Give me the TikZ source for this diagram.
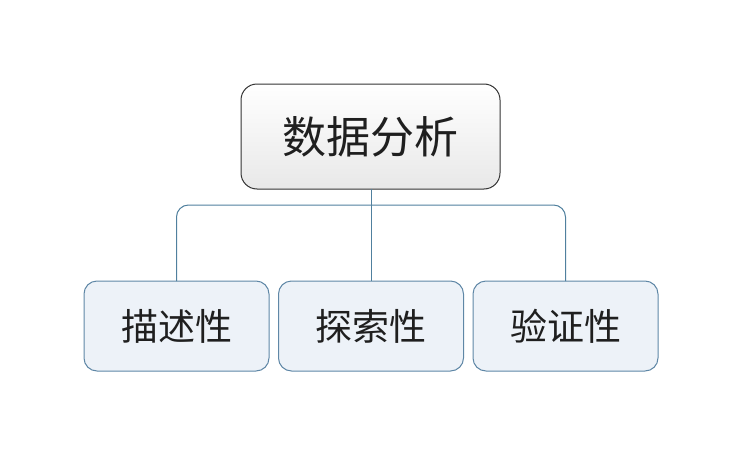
\documentclass[tikz,border=0pt]{standalone}
\usepackage{fontspec}
\usetikzlibrary{positioning}
\newfontfamily\cjk{Noto Sans CJK SC}
\definecolor{topic edge}{HTML}{333333}
\definecolor{sub edge}{HTML}{5F87A6}
\definecolor{sub area}{HTML}{EDF2F8}
\definecolor{link color}{HTML}{50809E}
\tikzset{topic/.style={draw=topic edge, line width=1pt, rounded corners=16pt,
        top color=white, bottom color=black!9, minimum width=259pt,
        minimum height=105pt, outer sep=0pt, text=black!88,
        font=\cjk\fontsize{44}{44}\selectfont},
    subtopic/.style={draw=sub edge, line width=1pt, fill=sub area,
        rounded corners=13pt, minimum width=185pt, minimum height=90pt,
        outer sep=0pt, text=black!88, font=\cjk\fontsize{37}{37}\selectfont},
    link/.style={draw=link color, line width=1pt}}

\begin{document}
\begin{tikzpicture}[x=1pt, y=-1pt]
    \useasboundingbox (0,0) rectangle (742,455);
    \node[topic] (root) at (370.5,136.5) {数据分析};
    \node[subtopic] (desc) at (176.5,326) {描述性};
    \node[subtopic, right=9.5pt of desc] (expl) {探索性};
    \node[subtopic, right=9.5pt of expl] (veri) {验证性};
    \coordinate (bar) at ([yshift=-16pt]root.south);
    \draw[link, rounded corners=12pt] (desc.north) |- (bar) -| (veri.north);
    \draw[link] (expl.north) -- (expl.north |- root.south);
\end{tikzpicture}
\end{document}
